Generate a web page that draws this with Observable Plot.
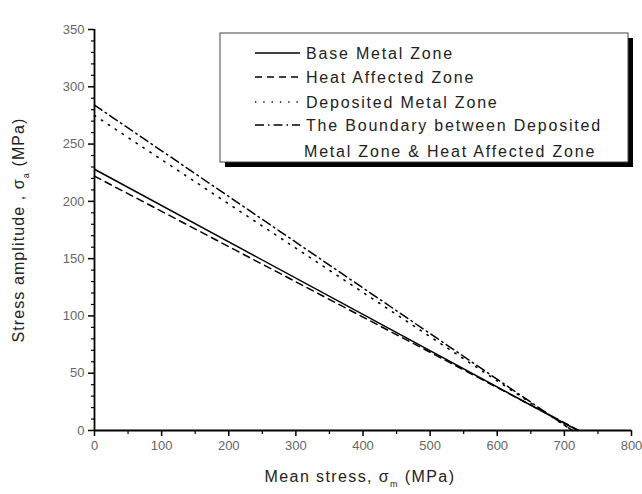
<!DOCTYPE html>
<html>
<head>
<meta charset="utf-8">
<script src="https://cdn.jsdelivr.net/npm/d3@7"></script>
<script src="https://cdn.jsdelivr.net/npm/@observablehq/plot@0.6"></script>
<style>
  html, body { margin: 0; padding: 0; background: #fff; }
  #chart { width: 642px; height: 494px; }
  svg { font-family: "Liberation Sans", Arial, sans-serif; }
</style>
</head>
<body>
<div id="chart"></div>
<script>
// Series names (legend order)
const seriesNames = [
  "Base Metal Zone",
  "Heat Affected Zone",
  "Deposited Metal Zone",
  "The Boundary between Deposited|Metal Zone & Heat Affected Zone"
];
// Mean stress (MPa) and stress amplitude (MPa) for each Goodman line
const baseX = [0, 720];
const baseY = [228, 0];
const hazX = [0, 722];
const hazY = [222, 0];
const depX = [0, 712];
const depY = [275, 0];
const bndX = [0, 712];
const bndY = [284, 0];

// Tick values
const xTicks = [0, 100, 200, 300, 400, 500, 600, 700, 800];
const xMinor = [50, 150, 250, 350, 450, 550, 650, 750];
const yTicks = [0, 50, 100, 150, 200, 250, 300, 350];
const yMinor = d3.range(0, 351, 10).filter(v => v % 50 !== 0);

const styles = [
  { dash: null, width: 1.5 },
  { dash: "7,5", width: 1.5 },
  { dash: "1.3,7", width: 1.6 },
  { dash: "9,4,1.5,4", width: 1.5 }
];

const seriesXY = [[baseX, baseY], [hazX, hazY], [depX, depY], [bndX, bndY]];
const tables = seriesXY.map(([xs, ys]) => xs.map((x, i) => ({ x, y: ys[i] })));

const W = 642, H = 494;
const tickFill = "#666";

const plot = Plot.plot({
  width: W,
  height: H,
  marginLeft: 94,
  marginRight: 11,
  marginTop: 29,
  marginBottom: 64,
  x: { domain: [0, 800] },
  y: { domain: [0, 350] },
  style: { fontFamily: "Liberation Sans, Arial, sans-serif", fontSize: "13px", background: "#fff" },
  marks: [
    ...tables.map((t, i) => Plot.line(t, {
      x: "x", y: "y", stroke: "#000",
      strokeWidth: styles[i].width,
      strokeDasharray: styles[i].dash
    })),
    Plot.axisX(xTicks, { tickSize: 6, tickPadding: 4, stroke: "#000", fill: tickFill, strokeWidth: 1.5, fontSize: 13, label: null }),
    Plot.axisX(xMinor, { tickSize: 4, tickFormat: () => "", stroke: "#000", strokeWidth: 1.2, label: null }),
    Plot.axisY(yTicks, { tickSize: 6, tickPadding: 4, stroke: "#000", fill: tickFill, strokeWidth: 1.5, fontSize: 13, label: null }),
    Plot.axisY(yMinor, { tickSize: 3, tickFormat: () => "", stroke: "#000", strokeWidth: 1.2, label: null }),
    Plot.ruleY([0], { stroke: "#000", strokeWidth: 1.8 }),
    Plot.ruleX([0], { stroke: "#000", strokeWidth: 1.8 })
  ]
});

document.getElementById("chart").appendChild(plot);

const svg = d3.select(plot);
const titleColor = "#222";

// X axis title with subscript
const xt = svg.append("text")
  .attr("x", 360).attr("y", 482)
  .attr("text-anchor", "middle")
  .attr("fill", titleColor)
  .attr("font-size", 16)
  .attr("letter-spacing", 1.4);
xt.append("tspan").text("Mean stress, σ");
xt.append("tspan").attr("font-size", 9).attr("dy", 5).text("m");
xt.append("tspan").attr("dy", -5).text(" (MPa)");

// Y axis title with subscript
const yt = svg.append("text")
  .attr("transform", "translate(24,230) rotate(-90)")
  .attr("text-anchor", "middle")
  .attr("fill", titleColor)
  .attr("font-size", 16)
  .attr("letter-spacing", 1.1);
yt.append("tspan").text("Stress amplitude , σ");
yt.append("tspan").attr("font-size", 9).attr("dy", 5).text("a");
yt.append("tspan").attr("dy", -5).text(" (MPa)");

// Legend box with drop shadow
const lg = svg.append("g");
lg.append("rect").attr("x", 225).attr("y", 38).attr("width", 408).attr("height", 129).attr("fill", "#000");
lg.append("rect").attr("x", 220).attr("y", 33).attr("width", 408).attr("height", 129)
  .attr("fill", "#fff").attr("stroke", "#444").attr("stroke-width", 1);

const rowY = [53, 77, 102, 125];
seriesNames.forEach((name, i) => {
  const y = rowY[i];
  lg.append("line").attr("x1", 255).attr("x2", 300).attr("y1", y).attr("y2", y)
    .attr("stroke", "#000").attr("stroke-width", 1.5)
    .attr("stroke-dasharray", styles[i].dash);
  const parts = name.split("|");
  parts.forEach((p, j) => {
    lg.append("text").attr("x", 306 - j * 2).attr("y", y + 6 + j * 26)
      .attr("text-anchor", "start")
      .attr("fill", titleColor).attr("font-size", 16)
      .attr("letter-spacing", 1.8)
      .text(p);
  });
});
</script>
</body>
</html>
